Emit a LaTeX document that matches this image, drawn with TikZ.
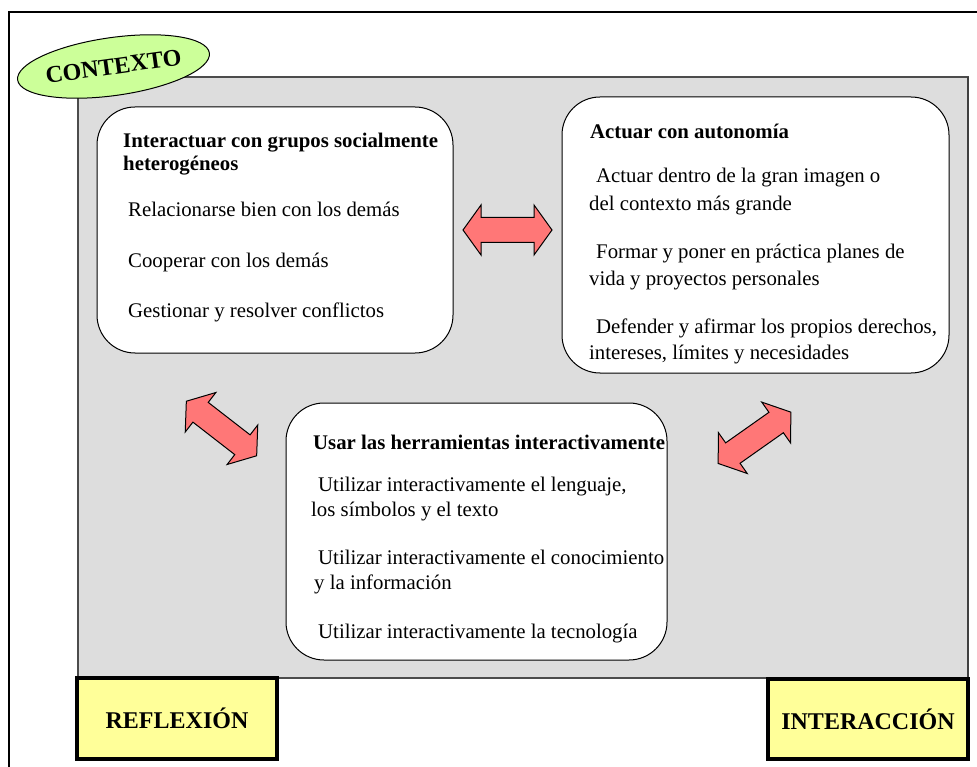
\documentclass[tikz,border=0pt]{standalone}
\usepackage{fontspec}
\setmainfont{Liberation Serif}
\usetikzlibrary{shapes.geometric}
\definecolor{panelgray}{HTML}{DDDDDD}
\definecolor{ctxgreen}{HTML}{CCFF99}
\definecolor{boxyellow}{HTML}{FFFF99}
\definecolor{arrowred}{HTML}{FF7777}
\tikzset{
  roundbox/.style={draw=black, line width=1pt, fill=white, rounded corners=38pt, inner sep=0pt},
  txt/.style={anchor=base west, inner sep=0pt, font=\fontsize{20.8}{24}\selectfont},
  ttl/.style={anchor=base west, inner sep=0pt, font=\fontsize{20.8}{24}\selectfont\bfseries},
  yellowbox/.style={draw=black, line width=4.5pt, fill=boxyellow, inner sep=0pt, font=\fontsize{24}{28}\selectfont\bfseries},
  blockarrow/.style={draw=black, line width=1pt, fill=arrowred, line join=miter}
}
\newcommand{\blockarr}[3]{\draw[blockarrow, shift={(#1,#2)}, rotate=#3] (-44.5,0) -- (-26.5,25) -- (-26.5,12.5) -- (26.5,12.5) -- (26.5,25) -- (44.5,0) -- (26.5,-25) -- (26.5,-12.5) -- (-26.5,-12.5) -- (-26.5,-25) -- cycle;}
\begin{document}
\begin{tikzpicture}[x=1pt,y=-1pt]
\useasboundingbox (0,0) rectangle (977,767);
\fill[white] (0,0) rectangle (977,767);
% outer frame (cropped)
\draw[line width=2pt] (9,767) -- (9,12) -- (977,12);
% gray panel
\draw[fill=panelgray, draw=black!70, line width=1.2pt] (78,77) rectangle (968,678);
\draw[black!75, line width=2pt] (968,77) -- (968,678);
% CONTEXTO ellipse
\node[ellipse, draw=black, line width=1pt, fill=ctxgreen, minimum width=189pt, minimum height=58pt, inner sep=0pt, rotate=8] (ctx) at (113.5,66.5) {\fontsize{24}{28}\selectfont\bfseries CONTEXTO};
% rounded boxes
\node[roundbox, minimum width=356pt, minimum height=246pt] (grp) at (275,230) {};
\node[roundbox, minimum width=387pt, minimum height=276pt] (aut) at (755.5,235) {};
\node[roundbox, minimum width=381pt, minimum height=257pt] (her) at (476.5,531.5) {};
% texts top-left
\node[ttl] (g1) at (123,148) {Interactuar con grupos socialmente};
\node[ttl] (g2) at (123,171) {heterogéneos};
\node[txt] (g3) at (128,217) {Relacionarse bien con los demás};
\node[txt] (g4) at (128,267.5) {Cooperar con los demás};
\node[txt] (g5) at (128,317.5) {Gestionar y resolver conflictos};
% texts top-right
\node[ttl] (a1) at (590,139) {Actuar con autonomía};
\node[txt] (a2) at (596,183) {Actuar dentro de la gran imagen o};
\node[txt] (a3) at (589,211) {del contexto más grande};
\node[txt] (a4) at (596,259) {Formar y poner en práctica planes de};
\node[txt] (a5) at (589,286) {vida y proyectos personales};
\node[txt] (a6) at (596,333) {Defender y afirmar los propios derechos,};
\node[txt] (a7) at (589,359) {intereses, límites y necesidades};
% texts bottom
\node[ttl] (h1) at (313,449) {Usar las herramientas interactivamente};
\node[txt] (h2) at (318,491) {Utilizar interactivamente el lenguaje,};
\node[txt] (h3) at (311,516) {los símbolos y el texto};
\node[txt] (h4) at (318,564) {Utilizar interactivamente el conocimiento};
\node[txt] (h5) at (314,589) {y la información};
\node[txt] (h6) at (318,638) {Utilizar interactivamente la tecnología};
% block arrows
\blockarr{507.5}{230}{0}
\blockarr{221.5}{428.5}{-37.8}
\blockarr{754.5}{437.8}{35.2}
% yellow boxes
\node[yellowbox, minimum width=200pt, minimum height=81pt] (refl) at (177,718.5) {REFLEXIÓN};
\node[yellowbox, minimum width=200pt, minimum height=80pt] (inter) at (868,719) {INTERACCIÓN};
\end{tikzpicture}
\end{document}
